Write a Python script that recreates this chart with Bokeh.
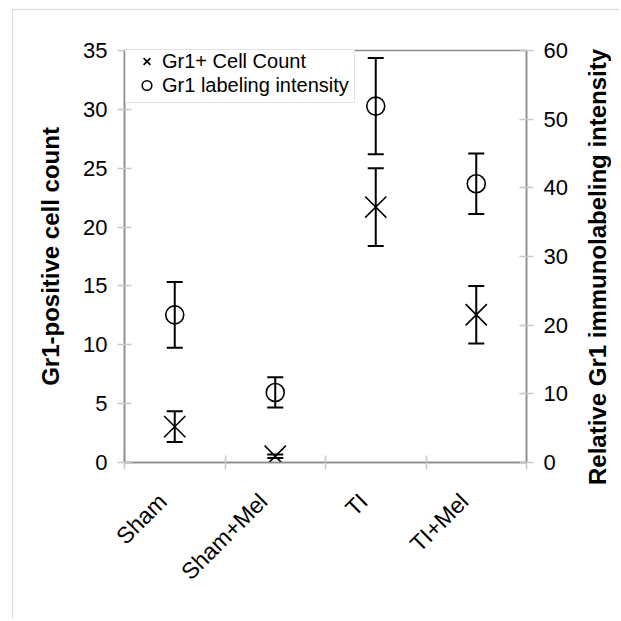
import math
from bokeh.plotting import figure
from bokeh.layouts import row
from bokeh.models import (ColumnDataSource, Range1d, LinearAxis, FixedTicker,
                          Whisker, TeeHead, Legend, LegendItem, Div)
from bokeh.embed import file_html
from bokeh.resources import INLINE

# ---------------- data ----------------
groups = ["Sham", "Sham+Mel", "TI", "TI+Mel"]
cell_count = [3.05, 0.53, 21.7, 12.55]
cell_count_err = [1.3, 0.15, 3.3, 2.45]
intensity = [21.5, 10.2, 51.9, 40.6]
intensity_err = [4.8, 2.2, 7.0, 4.4]
left_ticks = [0, 5, 10, 15, 20, 25, 30, 35]
right_ticks = [0, 10, 20, 30, 40, 50, 60]
left_label = "Gr1-positive cell count"
right_label = "Relative Gr1 immunolabeling intensity"

xs = [i + 0.5 for i in range(len(groups))]
boundaries = list(range(len(groups) + 1))
LABEL_SHIFT = 0.12  # rotated category labels sit a little left of the centre
label_pos = [x - LABEL_SHIFT for x in xs]

src_cnt = ColumnDataSource(dict(
    x=xs, y=cell_count,
    lo=[v - e for v, e in zip(cell_count, cell_count_err)],
    hi=[v + e for v, e in zip(cell_count, cell_count_err)]))
src_int = ColumnDataSource(dict(
    x=xs, y=intensity,
    lo=[v - e for v, e in zip(intensity, intensity_err)],
    hi=[v + e for v, e in zip(intensity, intensity_err)]))

FONT = "Liberation Sans"
AXIS_GRAY = "#8c8c8c"
TICK_GRAY = "#c8c8c8"
FW, FH = 402, 412
H = 608
W_MAIN, W_SIDE = 568, 28
BL, BT = 111, 40

p = figure(width=W_MAIN, height=H, output_backend="svg", toolbar_location=None,
           x_range=Range1d(0, len(groups)), y_range=Range1d(0, 35),
           frame_width=FW, frame_height=FH,
           min_border_left=BL, min_border_top=BT,
           min_border_right=W_MAIN - BL - FW, min_border_bottom=H - BT - FH)
p.extra_y_ranges = {"int": Range1d(0, 60)}
p.xgrid.visible = False
p.ygrid.visible = False
p.outline_line_color = AXIS_GRAY
p.outline_line_width = 1.5

# x axis
xa = p.xaxis[0]
xa.ticker = FixedTicker(ticks=label_pos, minor_ticks=boundaries)
xa.major_label_overrides = {x: g for x, g in zip(label_pos, groups)}
xa.major_tick_in = 0
xa.major_tick_out = 0
xa.minor_tick_in = 7
xa.minor_tick_out = 7
xa.minor_tick_line_color = TICK_GRAY
xa.minor_tick_line_width = 1.5
xa.axis_line_color = AXIS_GRAY
xa.axis_line_width = 1.5
xa.major_label_orientation = math.pi / 4
xa.major_label_standoff = 28
xa.major_label_text_font = FONT
xa.major_label_text_font_size = "23px"
xa.major_label_text_color = "black"

# left y axis
ya = p.yaxis[0]
ya.ticker = FixedTicker(ticks=left_ticks)
ya.axis_label = left_label

# right y axis
ra = LinearAxis(y_range_name="int", ticker=FixedTicker(ticks=right_ticks))
p.add_layout(ra, "right")

for ax in (ya, ra):
    ax.minor_tick_line_color = None
    ax.major_tick_in = 7
    ax.major_tick_out = 7
    ax.major_tick_line_color = TICK_GRAY
    ax.major_tick_line_width = 1.5
    ax.axis_line_color = AXIS_GRAY
    ax.axis_line_width = 1.5
    ax.major_label_standoff = 10
    ax.major_label_text_font = FONT
    ax.major_label_text_font_size = "22px"
    ax.major_label_text_color = "black"
ya.axis_label_text_font = FONT
ya.axis_label_text_font_size = "24px"
ya.axis_label_text_font_style = "bold"
ya.axis_label_text_color = "black"
ya.axis_label_standoff = 16

# error bars
for src, rng in ((src_cnt, "default"), (src_int, "int")):
    p.add_layout(Whisker(source=src, base="x", upper="hi", lower="lo",
                         y_range_name=rng,
                         line_color="black", line_width=2,
                         upper_head=TeeHead(size=16, line_width=2, line_color="black"),
                         lower_head=TeeHead(size=16, line_width=2, line_color="black")))

r_cnt = p.scatter("x", "y", source=src_cnt, marker="x", size=30,
                  line_color="black", line_width=1.6)
r_int = p.scatter("x", "y", source=src_int, marker="circle", size=18,
                  y_range_name="int", fill_color=None,
                  line_color="black", line_width=1.6)

legend = Legend(items=[LegendItem(label="Gr1+ Cell Count", renderers=[r_cnt], index=0),
                       LegendItem(label="Gr1 labeling intensity", renderers=[r_int], index=0)],
                location=(1, 359), padding=5, spacing=0,
                glyph_width=31, glyph_height=24, label_height=24,
                label_standoff=0, margin=0,
                label_text_font=FONT, label_text_font_size="20px",
                label_text_color="black",
                border_line_color="#c8c8c8", border_line_width=1.2,
                background_fill_color="white", background_fill_alpha=1)
p.add_layout(legend)

# right-hand axis title, reading bottom-to-top
side = Div(text=right_label, width=W_SIDE, height=504,
           styles={"writing-mode": "vertical-rl",
                   "transform": "rotate(180deg)",
                   "font-family": "'Liberation Sans', Arial, sans-serif",
                   "font-size": "24px", "font-weight": "bold",
                   "color": "black", "text-align": "center",
                   "white-space": "nowrap", "line-height": "24px"})

layout = row(p, side, spacing=0, margin=(9, 0, 0, 12),
             styles={"border-top": "1px solid #d6d6d6",
                     "border-left": "1px solid #d6d6d6"})

open("out.html", "w").write(file_html(layout, INLINE))
